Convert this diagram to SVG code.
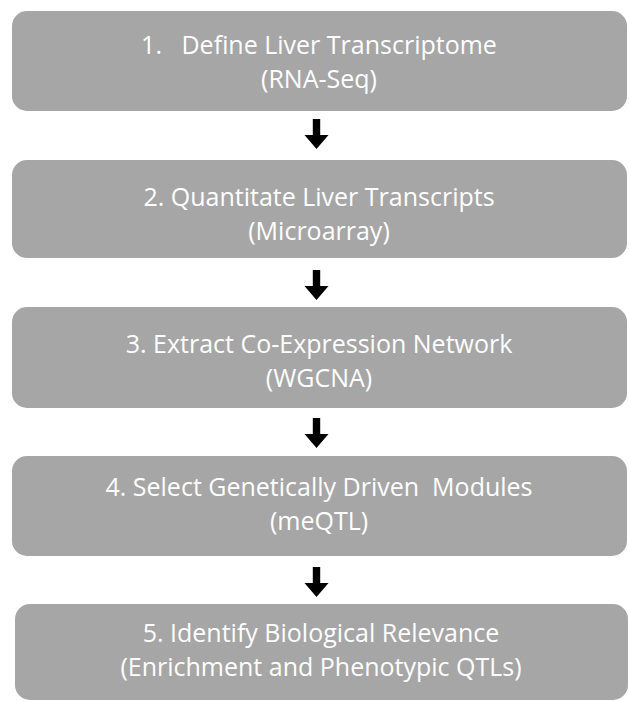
<svg xmlns="http://www.w3.org/2000/svg" width="629" height="701" viewBox="0 0 629 701">
  <style>
    .box { fill: #a6a6a6; }
    .label { font-family: "Open Sans", "Noto Sans", sans-serif; font-size: 25px; fill: #ffffff; text-anchor: middle; white-space: pre; }
    .arrow { fill: #000000; }
  </style>
  <defs>
    <!-- block arrow pointing down, tip at origin -->
    <path id="down" d="M -3.7 -30 L 3.7 -30 L 3.7 -14 L 12 -14 L 0 0 L -12 -14 L -3.7 -14 Z"/>
  </defs>
  <rect width="629" height="701" fill="#ffffff"/>

  <g id="step1">
    <rect class="box" x="12" y="11" width="615" height="100" rx="15"/>
    <text class="label" x="319" y="54" xml:space="preserve">1.   Define Liver Transcriptome</text>
    <text class="label" x="319" y="88">(RNA-Seq)</text>
  </g>
  <g id="step2">
    <rect class="box" x="12" y="160" width="615" height="98" rx="15"/>
    <text class="label" x="319" y="206">2. Quantitate Liver Transcripts</text>
    <text class="label" x="319" y="240">(Microarray)</text>
  </g>
  <g id="step3">
    <rect class="box" x="12" y="307" width="615" height="101" rx="15"/>
    <text class="label" x="319" y="353">3. Extract Co-Expression Network</text>
    <text class="label" x="319" y="387">(WGCNA)</text>
  </g>
  <g id="step4">
    <rect class="box" x="12" y="456" width="615" height="100" rx="15"/>
    <text class="label" x="319" y="496" xml:space="preserve">4. Select Genetically Driven  Modules</text>
    <text class="label" x="319" y="530">(meQTL)</text>
  </g>
  <g id="step5">
    <rect class="box" x="15" y="604" width="613" height="96" rx="15"/>
    <text class="label" x="321" y="642">5. Identify Biological Relevance</text>
    <text class="label" x="321" y="676">(Enrichment and Phenotypic QTLs)</text>
  </g>

  <g id="connectors" class="arrow">
    <use href="#down" x="316.5" y="149"/>
    <use href="#down" x="316.5" y="300"/>
    <use href="#down" x="316.5" y="448"/>
    <use href="#down" x="316.5" y="597"/>
  </g>
</svg>
